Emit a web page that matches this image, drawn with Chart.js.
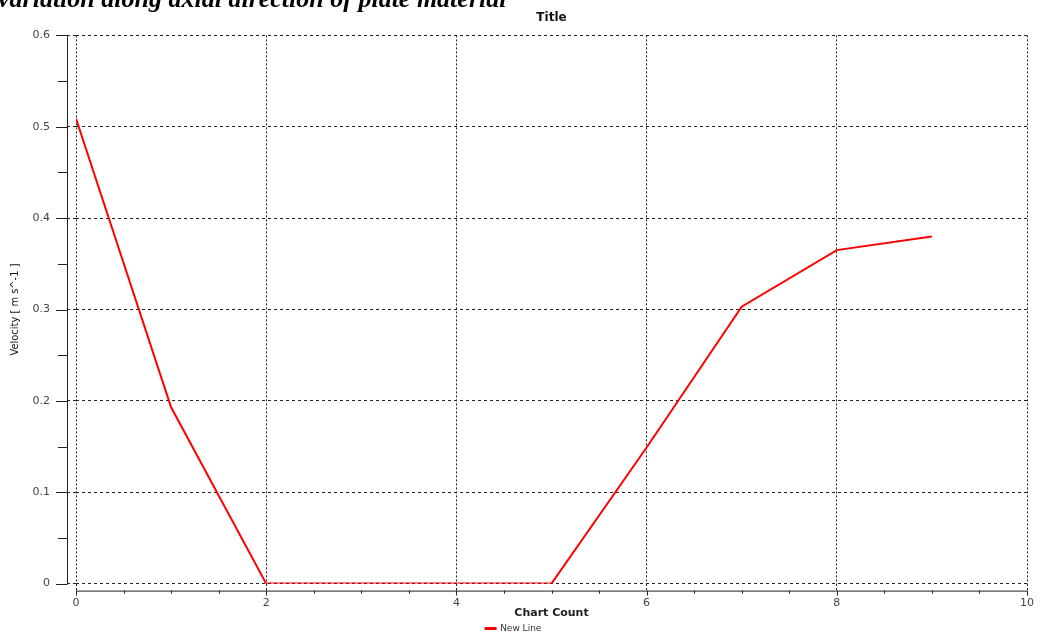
<!DOCTYPE html>
<html lang="en">
<head>
    <meta charset="UTF-8">
    <title>Velocity variation</title>
    <script src="https://cdn.jsdelivr.net/npm/chart.js@4"></script>
</head>
<body>
    <style>
        body{
            margin: 0;
            background-color: white;
            overflow: hidden;
        }
        .wrap{
            position: relative;
            width: 1042px;
            height: 635px;
        }
        .heading{
            position: absolute;
            left: -2px;
            top: -14px;
            font-family: 'Liberation Serif', 'DejaVu Serif', serif;
            font-weight: bold;
            font-style: italic;
            font-size: 26px;
            line-height: 1;
            color: black;
            white-space: nowrap;
            z-index: 2;
        }
    </style>
    <div class="wrap">
        <div class="heading">variation along axial direction of plate material</div>
        <canvas id="miCanvas" width="1042" height="635"></canvas>
    </div>
    <script>
    // data
    const chartCount = [0, 1, 2, 3, 4, 5, 6, 7, 8, 9];
    const velocity = [0.509, 0.193, 0, 0, 0, 0, 0.149, 0.303, 0.365, 0.380];
    const xTicks = [0, 2, 4, 6, 8, 10];
    const yTicks = [0, 0.1, 0.2, 0.3, 0.4, 0.5, 0.6];

    const points = chartCount.map((c, i) => ({x: c, y: velocity[i]}));

    // axis lines sit a bit away from the plot area, with minor ticks
    const axisPlugin = {
        id: 'offsetAxes',
        afterDraw(chart) {
            const ctx = chart.ctx;
            const xs = chart.scales.x, ys = chart.scales.y;
            const ax = chart.chartArea.left - 9;
            const ay = chart.chartArea.bottom + 7;
            ctx.save();
            ctx.strokeStyle = '#222';
            ctx.lineWidth = 1;
            ctx.beginPath();
            ctx.moveTo(ax + 0.5, ys.getPixelForValue(0.6));
            ctx.lineTo(ax + 0.5, ys.getPixelForValue(0) + 0.5);
            for (let v = 0; v <= 0.6001; v += 0.05) {
                const p = Math.round(ys.getPixelForValue(v)) + 0.5;
                const major = Math.round(v * 100) % 10 === 0;
                ctx.moveTo(ax - (major ? 11 : 9), p);
                ctx.lineTo(ax + 0.5, p);
            }
            ctx.moveTo(xs.getPixelForValue(0), ay + 0.5);
            ctx.lineTo(xs.getPixelForValue(10), ay + 0.5);
            for (let v = 0; v <= 10.001; v += 0.5) {
                const p = Math.round(xs.getPixelForValue(v)) + 0.5;
                const major = Math.round(v * 10) % 20 === 0;
                ctx.moveTo(p, ay);
                ctx.lineTo(p, ay + (major ? 5 : 3));
            }
            ctx.stroke();
            ctx.restore();
        }
    };

    const miCanvas = document.getElementById("miCanvas").getContext("2d");
    window.miCanva = new Chart(miCanvas, {
        type: "line",
        data: {
            datasets: [{
                label: "New Line",
                data: points,
                borderColor: 'rgb(255, 0, 0)',
                backgroundColor: 'rgb(255, 0, 0)',
                borderWidth: 2,
                pointRadius: 0,
                tension: 0
            }]
        },
        options: {
            responsive: false,
            animation: false,
            layout: {padding: {left: 0, right: 15, top: 0, bottom: -8}},
            plugins: {
                title: {
                    display: true,
                    text: 'Title',
                    fullSize: false,
                    color: '#111',
                    font: {family: 'DejaVu Sans', size: 12, weight: 'bold'},
                    padding: {top: 11, bottom: 10}
                },
                legend: {
                    position: 'bottom',
                    labels: {
                        boxWidth: 10,
                        boxHeight: 1,
                        color: '#333',
                        padding: 4,
                        font: {family: 'DejaVu Sans', size: 9}
                    }
                },
                tooltip: {enabled: false}
            },
            scales: {
                x: {
                    type: 'linear',
                    min: 0,
                    max: 10,
                    afterBuildTicks: (s) => { s.ticks = xTicks.map(v => ({value: v})); },
                    border: {display: false, dash: [2, 2]},
                    grid: {
                        color: '#222',
                        tickBorderDash: [2, 2],
                        tickColor: '#222',
                        tickLength: 7,
                        drawTicks: true
                    },
                    ticks: {
                        color: '#444',
                        padding: 6,
                        maxRotation: 0,
                        font: {family: 'DejaVu Sans', size: 11}
                    },
                    title: {
                        display: true,
                        text: 'Chart Count',
                        color: '#222',
                        padding: {top: -9, bottom: 0},
                        font: {family: 'DejaVu Sans', size: 11, weight: 'bold'}
                    }
                },
                y: {
                    min: 0,
                    max: 0.6,
                    afterBuildTicks: (s) => { s.ticks = yTicks.map(v => ({value: v})); },
                    afterFit: (s) => { s.width = 76; },
                    border: {display: false, dash: [3, 3]},
                    grid: {
                        color: '#222',
                        tickBorderDash: [3, 3],
                        tickColor: '#222',
                        tickLength: 9,
                        drawTicks: true
                    },
                    ticks: {
                        color: '#444',
                        padding: 17,
                        callback: (v) => v === 0 ? '0' : v.toFixed(1),
                        font: {family: 'DejaVu Sans', size: 11}
                    },
                    title: {
                        display: true,
                        text: 'Velocity [ m s^-1 ]',
                        color: '#111',
                        padding: {top: 9, bottom: 0},
                        font: {family: 'Liberation Sans Narrow, DejaVu Sans Condensed, DejaVu Sans', size: 11}
                    }
                }
            }
        },
        plugins: [axisPlugin]
    });
    </script>
</body>
</html>
